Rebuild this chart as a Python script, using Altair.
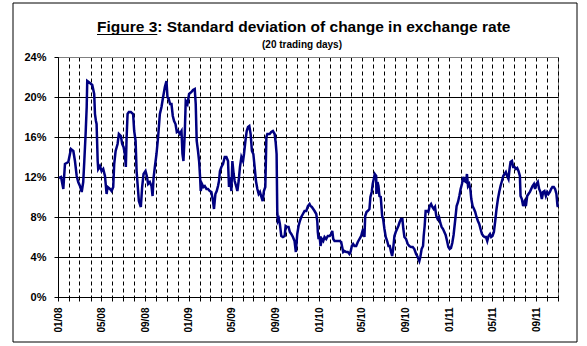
import altair as alt
import pandas as pd
import numpy as np

# months elapsed since 1 Jan 2008
months = [0.09, 0.28, 0.49, 0.64, 0.95, 1.19, 1.41, 1.56, 1.72, 1.86, 2.02, 2.18, 2.32, 2.42, 2.54, 2.64, 2.69, 2.94, 3.15, 3.33,
          3.40, 3.49, 3.55, 3.65, 3.70, 3.86, 4.01, 4.16, 4.32, 4.47, 4.56, 4.78, 4.93, 5.08, 5.17, 5.30, 5.48, 5.60, 5.79, 5.90,
          6.03, 6.15, 6.24, 6.31, 6.40, 6.52, 6.70, 6.91, 7.01, 7.14, 7.23, 7.32, 7.44, 7.62, 7.74, 7.87, 8.05, 8.17, 8.29, 8.45,
          8.60, 8.70, 8.79, 8.91, 9.06, 9.21, 9.37, 9.52, 9.67, 9.83, 9.98, 10.07, 10.19, 10.31, 10.44, 10.56, 10.68, 10.81, 10.93, 11.05,
          11.20, 11.36, 11.45, 11.54, 11.66, 11.75, 11.91, 12.06, 12.28, 12.42, 12.58, 12.67, 12.76, 12.88, 12.98, 13.07, 13.13, 13.25, 13.38, 13.50,
          13.66, 13.80, 13.96, 14.11, 14.26, 14.35, 14.48, 14.60, 14.72, 14.81, 14.90, 15.03, 15.18, 15.34, 15.49, 15.64, 15.73, 15.82, 15.95, 16.04,
          16.16, 16.25, 16.41, 16.50, 16.62, 16.74, 16.87, 17.02, 17.11, 17.24, 17.36, 17.48, 17.60, 17.72, 17.84, 17.97, 18.09, 18.21, 18.34, 18.46,
          18.58, 18.71, 18.83, 18.94, 19.07, 19.17, 19.26, 19.47, 19.62, 19.77, 19.93, 20.02, 20.11, 20.17, 20.23, 20.32, 20.41, 20.54, 20.69, 20.85,
          20.94, 21.06, 21.21, 21.33, 21.46, 21.61, 21.76, 21.88, 22.01, 22.13, 22.25, 22.38, 22.53, 22.68, 22.84, 22.99, 23.14, 23.23, 23.35, 23.48,
          23.60, 23.76, 23.85, 23.90, 23.97, 24.06, 24.15, 24.27, 24.40, 24.52, 24.67, 24.82, 24.98, 25.13, 25.23, 25.32, 25.44, 25.59, 25.74, 25.90,
          26.05, 26.14, 26.24, 26.36, 26.51, 26.66, 26.81, 26.91, 27.03, 27.15, 27.27, 27.43, 27.58, 27.73, 27.89, 27.98, 28.07, 28.19, 28.26, 28.38,
          28.49, 28.65, 28.74, 28.86, 28.95, 29.05, 29.14, 29.27, 29.29, 29.39, 29.48, 29.57, 29.69, 29.82, 29.91, 30.03, 30.15, 30.28, 30.40, 30.52,
          30.64, 30.74, 30.83, 30.95, 31.07, 31.19, 31.31, 31.43, 31.56, 31.68, 31.77, 31.87, 32.02, 32.17, 32.32, 32.48, 32.63, 32.78, 32.94, 33.09,
          33.24, 33.33, 33.45, 33.58, 33.64, 33.73, 33.82, 33.95, 34.07, 34.19, 34.32, 34.44, 34.56, 34.68, 34.80, 34.92, 35.05, 35.17, 35.29, 35.42,
          35.54, 35.66, 35.79, 35.91, 36.03, 36.15, 36.27, 36.39, 36.55, 36.67, 36.80, 36.92, 37.04, 37.16, 37.28, 37.40, 37.53, 37.62, 37.72, 37.83,
          37.93, 38.02, 38.14, 38.27, 38.38, 38.50, 38.63, 38.75, 38.87, 39.00, 39.12, 39.24, 39.37, 39.49, 39.61, 39.74, 39.85, 39.97, 40.10, 40.22,
          40.34, 40.47, 40.59, 40.71, 40.84, 40.96, 41.08, 41.20, 41.32, 41.44, 41.54, 41.63, 41.76, 41.87, 42.00, 42.12, 42.24, 42.36, 42.49, 42.55,
          42.67, 42.79, 42.91, 43.04, 43.16, 43.28, 43.41, 43.53, 43.65, 43.78, 43.89, 44.01, 44.14, 44.26, 44.38, 44.51, 44.63, 44.75, 44.88, 45.00,
          45.12, 45.25, 45.36, 45.48, 45.61, 45.73, 45.85, 45.95, 46.00]

# standard deviation of change in exchange rate, % (20 trading days)
values = [11.9, 12.0, 10.8, 13.3, 13.5, 14.8, 14.6, 13.6, 12.1, 11.5, 11.1, 10.5, 11.5, 13.6, 16.3, 19.0, 21.6, 21.4, 21.2, 20.3,
          18.3, 17.6, 17.3, 13.6, 12.8, 13.1, 12.6, 12.8, 12.1, 10.3, 11.0, 10.8, 10.6, 11.0, 13.3, 14.6, 15.3, 16.3, 16.1, 15.3,
          15.0, 14.3, 13.0, 15.9, 18.3, 18.5, 18.5, 18.3, 16.6, 15.6, 12.6, 11.3, 9.6, 9.0, 11.0, 12.3, 12.6, 12.1, 11.3, 11.5,
          11.1, 10.1, 11.9, 13.0, 14.3, 16.0, 18.3, 19.0, 20.0, 21.0, 21.6, 20.0, 19.8, 19.3, 19.3, 18.1, 17.6, 17.3, 16.5, 16.6,
          16.3, 16.6, 14.3, 13.6, 16.3, 19.6, 19.3, 20.3, 20.5, 20.7, 20.8, 19.3, 15.6, 14.6, 13.6, 12.0, 10.6, 11.3, 11.0, 11.1,
          10.8, 10.8, 10.6, 10.5, 9.6, 8.8, 10.3, 10.6, 11.1, 11.6, 12.6, 13.0, 13.3, 14.0, 14.0, 13.6, 11.0, 12.0, 10.6, 13.6,
          12.3, 11.6, 11.0, 10.6, 11.6, 13.0, 14.0, 13.6, 14.3, 15.6, 16.6, 17.0, 17.1, 16.3, 14.6, 14.3, 13.0, 11.6, 10.8, 10.3,
          10.5, 10.0, 9.6, 10.6, 11.0, 16.0, 16.3, 16.3, 16.5, 16.6, 16.3, 15.5, 14.3, 8.6, 7.6, 7.8, 7.3, 6.1, 6.0, 6.1,
          7.1, 7.0, 7.0, 6.5, 6.3, 6.0, 5.6, 4.5, 6.3, 7.1, 7.6, 8.0, 8.3, 8.6, 8.6, 9.1, 9.3, 9.1, 9.0, 8.8,
          8.6, 8.3, 7.6, 6.5, 5.8, 6.1, 5.1, 5.8, 5.6, 6.0, 5.8, 6.1, 6.1, 6.3, 6.6, 5.8, 5.6, 5.6, 5.6, 5.6,
          5.5, 5.0, 4.5, 4.6, 4.5, 4.5, 4.3, 4.5, 5.1, 5.3, 5.1, 5.1, 5.5, 5.8, 6.1, 6.5, 6.8, 6.0, 8.1, 8.5,
          8.6, 8.8, 10.0, 10.5, 11.3, 11.8, 12.3, 12.1, 10.3, 11.5, 11.1, 10.1, 10.0, 8.1, 7.8, 6.8, 6.0, 5.6, 5.1, 5.1,
          4.5, 4.1, 4.8, 6.1, 6.5, 6.8, 7.1, 7.5, 7.8, 7.8, 6.8, 6.0, 5.8, 5.3, 5.1, 5.0, 5.0, 4.8, 4.3, 4.0,
          3.6, 4.0, 4.8, 5.1, 6.1, 7.1, 8.6, 8.6, 8.5, 9.1, 9.3, 9.0, 8.8, 9.0, 8.1, 7.8, 8.0, 7.4, 7.0, 6.8,
          6.5, 6.2, 5.6, 5.0, 4.8, 4.9, 5.4, 6.2, 7.8, 9.1, 9.5, 10.1, 10.8, 11.3, 12.0, 11.6, 11.5, 12.3, 11.1, 11.3,
          10.8, 9.8, 9.1, 8.8, 8.5, 8.0, 7.6, 7.3, 6.8, 6.3, 6.1, 6.0, 6.0, 5.6, 6.1, 6.3, 6.0, 6.1, 6.5, 7.6,
          8.8, 9.8, 10.5, 11.1, 11.6, 12.1, 12.3, 12.5, 12.1, 11.8, 12.8, 13.5, 13.6, 13.0, 13.0, 12.8, 12.9, 12.6, 12.1, 10.1,
          9.8, 9.1, 9.5, 9.1, 10.1, 10.3, 10.5, 10.8, 11.1, 11.3, 10.8, 11.3, 11.5, 10.8, 10.5, 9.8, 10.5, 10.6, 10.1, 10.5,
          10.3, 10.5, 10.8, 11.0, 11.0, 10.8, 10.3, 9.1, 9.0]

y_ticks = [0, 4, 8, 12, 16, 20, 24]
title_main = "Figure 3"
title_rest = ": Standard deviation of change in exchange rate"
subtitle = "(20 trading days)"

FONT = "Liberation Sans"

start = pd.Timestamp("2008-01-01")
dates = start + pd.to_timedelta(np.array(months) * 30.4375, unit="D")
epoch_ms = ((dates - pd.Timestamp("1970-01-01")) // pd.Timedelta(milliseconds=1)).astype("int64")
df = pd.DataFrame({"date": epoch_ms, "value": values})

x_axis = alt.Axis(
    title=None,
    tickCount={"interval": "month", "step": 1},
    labelExpr="utcmonth(datum.value) % 4 == 0 ? utcFormat(datum.value, '%m/%y') : ''",
    labelAngle=270,
    labelAlign="right",
    labelBaseline="middle",
    labelFont=FONT,
    labelFontSize=10,
    labelFontWeight="bold",
    labelColor="black",
    labelPadding=6,
    labelOverlap=False,
    labelFlush=False,
    tickSize=4,
    tickColor="black",
    domainColor="black",
    grid=True,
    gridDash=[4, 3],
    gridColor="black",
    gridOpacity=1,
    gridWidth=1,
)

y_axis = alt.Axis(
    title=None,
    values=y_ticks,
    labelExpr="datum.value + '%'",
    labelFont=FONT,
    labelFontSize=11,
    labelFontWeight="bold",
    labelColor="black",
    labelPadding=8,
    tickSize=4,
    tickColor="black",
    domainColor="black",
    grid=True,
    gridColor=alt.condition("datum.value == 24", alt.value("#808080"), alt.value("black")),
    gridOpacity=1,
    gridWidth=1,
)

line = alt.Chart(df).mark_line(color="#000080", strokeWidth=2.5).encode(
    x=alt.X("date:T", axis=x_axis,
            scale=alt.Scale(type="utc",
                            domain=[alt.DateTime(year=2008, month=1, date=1, utc=True),
                                    alt.DateTime(year=2011, month=11, date=1, utc=True)])),
    y=alt.Y("value:Q", axis=y_axis, scale=alt.Scale(domain=[0, 24], nice=False)),
)

one = pd.DataFrame({"k": [0]})

frame = alt.Chart(one).mark_rect(fillOpacity=0, stroke="black", strokeWidth=1).encode(
    x=alt.value(-45), x2=alt.value(519), y=alt.value(-54), y2=alt.value(285)
)

t1 = alt.Chart(one).mark_text(text=title_main, align="left", baseline="alphabetic",
                              font=FONT, fontSize=15.5, fontWeight="bold", color="black").encode(
    x=alt.value(39), y=alt.value(-25))
t2 = alt.Chart(one).mark_text(text=title_rest, align="left", baseline="alphabetic",
                              font=FONT, fontSize=15.5, fontWeight="bold", color="black").encode(
    x=alt.value(99.3), y=alt.value(-25))
underline = alt.Chart(one).mark_rule(color="black", strokeWidth=1.2).encode(
    x=alt.value(39), x2=alt.value(99.3), y=alt.value(-22.5))
sub = alt.Chart(one).mark_text(text=subtitle, align="center", baseline="alphabetic",
                               font=FONT, fontSize=10, fontWeight="bold", color="black").encode(
    x=alt.value(244), y=alt.value(-9))

chart = alt.layer(line, frame, t1, t2, underline, sub).properties(
    width=500,
    height=240,
    autosize=alt.AutoSizeParams(type="none"),
    padding={"left": 58, "top": 57, "right": 29, "bottom": 49},
    background="white",
).configure_view(stroke="#808080", strokeWidth=1)

chart.save("out.html", embed_options={"renderer": "svg", "actions": False})
